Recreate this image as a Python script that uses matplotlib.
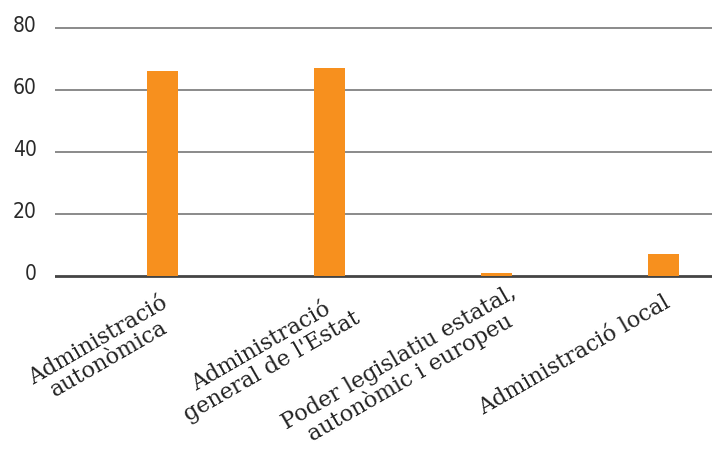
import matplotlib
matplotlib.use("Agg")
import matplotlib.pyplot as plt
import matplotlib.transforms as mtransforms
import numpy as np

# data
categories = ["Administració\nautonòmica",
              "Administració\ngeneral de l'Estat",
              "Poder legislatiu estatal,\nautonòmic i europeu",
              "Administració local"]
values = [66, 67, 1, 7]
y_ticks = [0, 20, 40, 60, 80]

bar_color = "#F7901E"
grid_color = "#8a8a8a"

fig = plt.figure(figsize=(7.12, 4.53), dpi=100)
ax = fig.add_axes([0.0772, 0.3839, 0.9228, 0.5687])

ind = np.arange(len(categories))
ax.bar(ind, values, width=0.186, color=bar_color, zorder=3)

ax.set_xlim(-0.6475, 3.291)
ax.set_ylim(-1, 82)

# horizontal grid, darker base line
for y in y_ticks:
    if y == 0:
        ax.axhline(y, color="#444444", lw=2.0, zorder=2)
    else:
        ax.axhline(y, color=grid_color, lw=1.4, zorder=1)

for s in ax.spines.values():
    s.set_visible(False)

ax.set_yticks(y_ticks)
ax.set_yticklabels([str(v) for v in y_ticks], family="DejaVu Sans",
                   fontstretch="condensed", fontsize=15, color="#2a2a2a")
ax.tick_params(axis="y", length=0, pad=13)
# y labels sit a bit above their grid line
up = mtransforms.ScaledTranslation(0, 3 / 72, fig.dpi_scale_trans)
for lab in ax.get_yticklabels():
    lab.set_transform(lab.get_transform() + up)

ax.set_xticks(ind)
ax.set_xticklabels(categories, rotation=30, ha="right", va="top",
                   rotation_mode="anchor", multialignment="center",
                   family="DejaVu Serif", fontsize=16, color="#222222",
                   linespacing=1.0)
ax.tick_params(axis="x", length=0, pad=9)

# the two-line labels are pushed a little right in the original (pixels)
nudges = [(-3, 0), (12, 4), (12, 10), (0, 0)]
for lab, (dx, dy) in zip(ax.get_xticklabels(), nudges):
    off = mtransforms.ScaledTranslation(dx / 100, dy / 100, fig.dpi_scale_trans)
    lab.set_transform(lab.get_transform() + off)

fig.savefig("out.png", dpi=100)
